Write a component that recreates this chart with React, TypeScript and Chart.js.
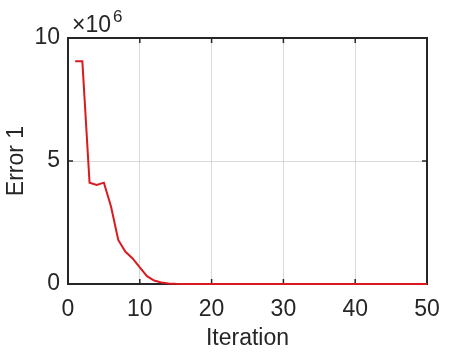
import React, { useEffect, useRef } from "react";
import { Chart, registerables } from "chart.js";

Chart.register(...registerables);

const iterations: number[] = Array.from({ length: 50 }, (_, i) => i + 1);
const errorValues: number[] = [
  9.05e6, 9.05e6, 4.12e6, 4.03e6, 4.12e6, 3.14e6, 1.79e6, 1.31e6, 1.04e6, 0.68e6,
  0.32e6, 0.14e6, 0.06e6, 0.025e6, 0.01e6, 0.004e6, 0.0015e6, 0.0006e6, 0.0002e6, 0.0001e6,
  0, 0, 0, 0, 0, 0, 0, 0, 0, 0,
  0, 0, 0, 0, 0, 0, 0, 0, 0, 0,
  0, 0, 0, 0, 0, 0, 0, 0, 0, 0,
];
const xTicks: number[] = [0, 10, 20, 30, 40, 50];
const yTicks: number[] = [0, 5e6, 10e6];
const xTitle = "Iteration";
const yTitle = "Error 1";
const exponentBase = "\u00d710";
const exponentPower = "6";

const FONT = "'Liberation Sans', Arial, Helvetica, sans-serif";
const AXIS = "#262626";

const boxPlugin = {
  id: "matlabBox",
  beforeDatasetsDraw(chart: any) {
    const { ctx, chartArea } = chart;
    const { left, right, top, bottom } = chartArea;
    const xs = chart.scales.x;
    const ys = chart.scales.y;
    ctx.save();
    ctx.strokeStyle = AXIS;
    ctx.lineWidth = 1.5;
    const tl = 5;
    ctx.beginPath();
    xTicks.forEach((v) => {
      const px = xs.getPixelForValue(v);
      ctx.moveTo(px, bottom);
      ctx.lineTo(px, bottom - tl);
      ctx.moveTo(px, top);
      ctx.lineTo(px, top + tl);
    });
    yTicks.forEach((v) => {
      const py = ys.getPixelForValue(v);
      ctx.moveTo(left, py);
      ctx.lineTo(left + tl, py);
      ctx.moveTo(right, py);
      ctx.lineTo(right - tl, py);
    });
    ctx.stroke();
    ctx.lineWidth = 2;
    ctx.strokeRect(left, top, right - left, bottom - top);
    ctx.restore();
  },
  afterDraw(chart: any) {
    const { ctx, chartArea } = chart;
    const { left } = chartArea;
    ctx.save();
    ctx.fillStyle = AXIS;
    ctx.textBaseline = "alphabetic";
    ctx.textAlign = "left";
    ctx.font = `23px ${FONT}`;
    ctx.fillText(exponentBase, left + 4, 32);
    const w = ctx.measureText(exponentBase).width;
    ctx.font = `17px ${FONT}`;
    ctx.fillText(exponentPower, left + 4 + w + 2, 22);
    ctx.restore();
  },
};

export default function App() {
  const ref = useRef<HTMLCanvasElement | null>(null);
  useEffect(() => {
    document.body.style.margin = "0";
    const canvas = ref.current;
    if (!canvas) return;
    const chart = new Chart(canvas, {
      type: "line",
      data: {
        datasets: [
          {
            data: iterations.map((x, i) => ({ x, y: errorValues[i] })),
            borderColor: "#DA1A1E",
            borderWidth: 2,
            pointRadius: 0,
            tension: 0,
            fill: false,
            clip: 3,
          },
        ],
      },
      options: {
        responsive: false,
        animation: false,
        devicePixelRatio: 1,
        layout: { padding: { top: 38, right: 45, left: 0, bottom: 0 } },
        plugins: { legend: { display: false }, tooltip: { enabled: false } },
        scales: {
          x: {
            type: "linear",
            min: 0,
            max: 50,
            afterFit: (s: any) => {
              s.height = 70;
            },
            afterBuildTicks: (s: any) => {
              s.ticks = xTicks.map((v) => ({ value: v }));
            },
            border: { display: false },
            grid: { color: "#D9D9D9", lineWidth: 1, drawTicks: false },
            ticks: {
              color: AXIS,
              font: { family: FONT, size: 23 },
              padding: 12,
              maxRotation: 0,
            },
            title: {
              display: true,
              text: xTitle,
              color: AXIS,
              font: { family: FONT, size: 23 },
              padding: { top: 0, bottom: 2 },
            },
          },
          y: {
            type: "linear",
            min: 0,
            max: 1e7,
            afterFit: (s: any) => {
              s.width = 68;
            },
            afterBuildTicks: (s: any) => {
              s.ticks = yTicks.map((v) => ({ value: v }));
            },
            border: { display: false },
            grid: { color: "#D9D9D9", lineWidth: 1, drawTicks: false },
            ticks: {
              color: AXIS,
              font: { family: FONT, size: 23 },
              padding: 8,
              callback: (v: any) => String(Number(v) / 1e6),
            },
            title: {
              display: true,
              text: yTitle,
              color: AXIS,
              font: { family: FONT, size: 23 },
              padding: { top: 3, bottom: 0 },
            },
          },
        },
      },
      plugins: [boxPlugin],
    });
    return () => chart.destroy();
  }, []);
  return <canvas ref={ref} width={472} height={354} style={{ display: "block" }} />;
}
